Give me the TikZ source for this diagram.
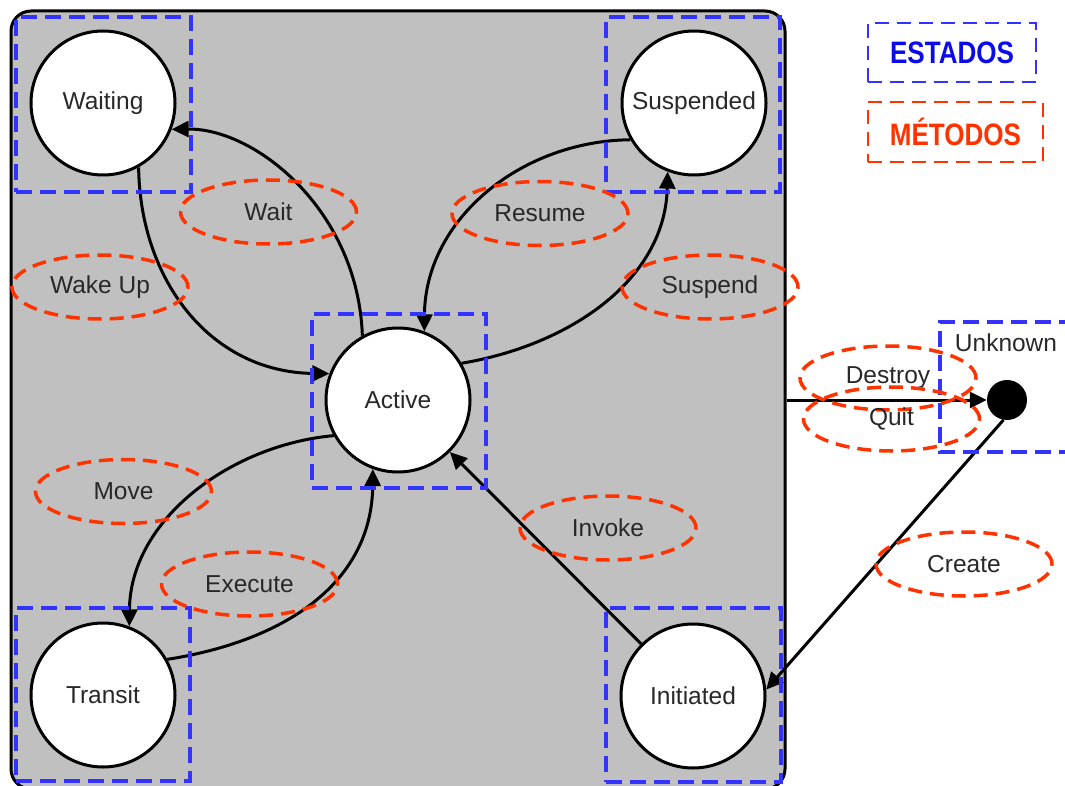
\documentclass[tikz,border=0pt]{standalone}
\usepackage{fontspec}
\setmainfont{Liberation Sans}
\newfontfamily\narrowsans[FakeStretch=0.84]{Liberation Sans}
\usetikzlibrary{shapes.geometric,arrows.meta}
\definecolor{estblue}{RGB}{51,51,255}
\definecolor{esttext}{RGB}{10,10,235}
\definecolor{metred}{RGB}{255,51,0}
\definecolor{boxgray}{RGB}{192,192,192}
\definecolor{txt}{RGB}{40,40,40}
\newcommand\labfont{\fontsize{24.5}{29}\selectfont}
\newcommand\legfont{\narrowsans\bfseries\fontsize{31}{34}\selectfont}
\begin{document}
\begin{tikzpicture}[x=1pt,y=-1pt,
  stnode/.style={circle, draw=black, line width=3pt, fill=white, minimum size=144pt, inner sep=0pt, font=\labfont, text=txt},
  estbox/.style={draw=estblue, line width=3.5pt, dash pattern=on 16pt off 8pt, inner sep=0pt},
  metodo/.style={ellipse, draw=metred, line width=3.5pt, dash pattern=on 14pt off 8pt, minimum width=176pt, minimum height=64pt, inner sep=0pt, font=\labfont, text=txt},
  trans/.style={line width=3pt, -{Triangle[length=17pt,width=16pt]}},
]
\useasboundingbox (0,0) rectangle (1065,786);
% container
\node[draw=black, line width=3pt, fill=boxgray, rounded corners=20pt, minimum width=774pt, minimum height=778pt, inner sep=0pt] (frame) at (398,400) {};
% states
\node[stnode] (Waiting) at (103,103) {Waiting};
\node[stnode] (Suspended) at (694,103) {Suspended};
\node[stnode] (Active) at (398,400) {Active};
\node[stnode] (Transit) at (103,695) {Transit};
\node[stnode] (Initiated) at (693,696) {Initiated};
\node[circle, fill=black, minimum size=40pt, inner sep=0pt] (Unknown) at (1007,400) {};
% transitions
\draw[trans] (Active.119) .. controls (358,210) and (255,128) .. (Waiting.-21);
\draw[trans] (Waiting.-61) .. controls (140,280) and (210,372) .. (Active.159);
\draw[trans] (Suspended.-150) .. controls (520,141) and (425,220) .. (Active.69);
\draw[trans] (Active.30) .. controls (570,345) and (665,280) .. (Suspended.-111);
\draw[trans] (Active.-151) .. controls (230,445) and (130,520) .. (Transit.69);
\draw[trans] (Transit.29) .. controls (290,640) and (372,580) .. (Active.-110);
\draw[trans] (Initiated) -- (Active);
\coordinate (exitpt) at (frame.east);
\draw[trans] (exitpt) -- (Unknown);
\draw[trans] (Unknown.-100) -- (Initiated.5);
% state boxes
\node[estbox, minimum width=175pt, minimum height=175pt] (bWaiting) at (103.5,104.5) {};
\node[estbox, minimum width=174pt, minimum height=175pt] (bSuspended) at (693,104.5) {};
\node[estbox, minimum width=174pt, minimum height=174pt] (bActive) at (399,401) {};
\node[estbox, minimum width=174pt, minimum height=173pt] (bTransit) at (103,694.5) {};
\node[estbox, minimum width=175pt, minimum height=174pt] (bInitiated) at (693.5,695) {};
\draw[estbox] (1075,322) -- (940,322) -- (940,452) -- (1075,452);
\node[font=\labfont, text=txt, inner sep=0pt] (lUnknown) at (1006,343) {Unknown};
% methods
\node[metodo] (mWait) at (268.5,212) {Wait};
\node[metodo] (mResume) at (540,213.5) {Resume};
\node[metodo] (mWakeUp) at (100,287) {Wake Up};
\node[metodo] (mSuspend) at (710,287) {Suspend};
\node[metodo] (mMove) at (123.5,491.5) {Move};
\node[metodo] (mExecute) at (249.5,584) {Execute};
\node[metodo] (mInvoke) at (608,528) {Invoke};
\node[metodo] (mCreate) at (964,564) {Create};
\node[metodo] (mDestroy) at (888,378) {Destroy};
\node[metodo] (mQuit) at (891.5,419) {Quit};
% legend
\node[estbox, line width=2.5pt, dash pattern=on 14pt off 8pt, minimum width=168pt, minimum height=59pt, font=\legfont, text=esttext] (lEstados) at (952,52.5) {ESTADOS};
\node[estbox, draw=metred, line width=2.5pt, dash pattern=on 14pt off 8pt, minimum width=175pt, minimum height=60pt, font=\legfont, text=metred] (lMetodos) at (955.5,132) {MÉTODOS};
\end{tikzpicture}
\end{document}
